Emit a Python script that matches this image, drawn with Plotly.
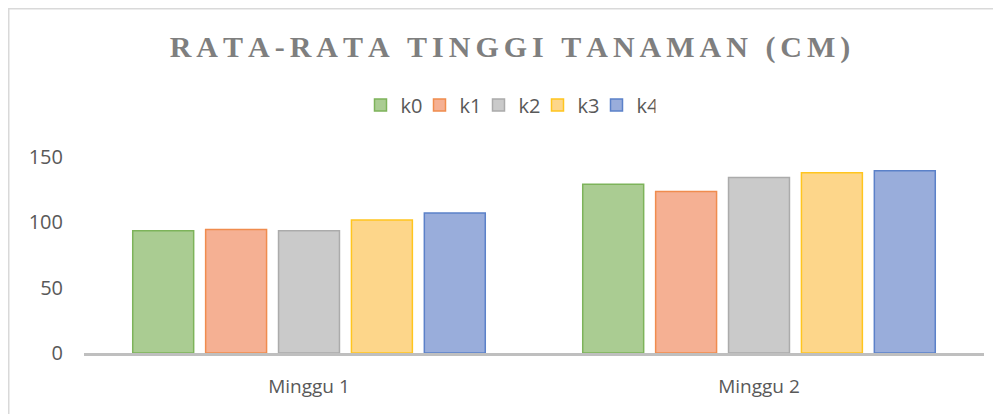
import plotly.graph_objects as go

# data
minggu = ["Minggu 1", "Minggu 2"]
seri = ["k0", "k1", "k2", "k3", "k4"]
k0 = [93.6, 129.1]
k1 = [94.6, 123.7]
k2 = [93.5, 134.4]
k3 = [101.8, 137.9]
k4 = [107.1, 139.5]
nilai = [k0, k1, k2, k3, k4]

# fill / border colours (Excel-ish)
isi = ["#AACC92", "#F5B093", "#CACACA", "#FDD68A", "#99ADDB"]
garis = ["#7DB35A", "#F08C4E", "#ABABAB", "#FFC51F", "#5B81C9"]

# page body has an 8px margin, so the figure is a bit smaller and shifted
OFF = 8
W, H = 1001 - OFF, 414 - OFF
ML, MR, MT, MB = 84 - OFF, 17, 144 - OFF, 61
pw = W - ML - MR
ph = H - MT - MB

fig = go.Figure()
for nama, y, c, lc in zip(seri, nilai, isi, garis):
    fig.add_trace(go.Bar(
        x=minggu, y=y, name=nama,
        marker=dict(color=c, line=dict(color=lc, width=1.5)),
    ))

judul = "RATA-RATA TINGGI TANAMAN (CM)"
judul = "\u2006".join(judul)

fig.update_layout(
    width=W, height=H,
    margin=dict(l=ML, r=MR, t=MT, b=MB),
    paper_bgcolor="white", plot_bgcolor="white",
    barmode="group", bargap=0.19, bargroupgap=0.164,
    font=dict(family="Open Sans", size=19, color="#595959"),
    title=dict(
        text="<b>" + judul + "</b>",
        font=dict(family="Liberation Serif", size=30, color="#7F7F7F"),
        x=(510 - OFF) / W, xanchor="center", xref="container",
        y=1 - (46 - OFF) / H, yanchor="middle",
    ),
    legend=dict(
        orientation="h", x=(508 - 84) / pw, xanchor="center",
        y=(H - MB - (105 - OFF)) / ph, yanchor="middle",
        font=dict(size=20, color="#595959"),
        itemwidth=30, traceorder="normal",
        entrywidth=14, entrywidthmode="pixels",
    ),
    showlegend=True,
)

fig.update_xaxes(
    showline=True, linecolor="#BFBFBF", linewidth=2.5,
    showgrid=False, ticks="", ticklabelstandoff=14,
)
fig.update_yaxes(
    range=[0, 160], tickvals=[0, 50, 100, 150],
    showgrid=False, zeroline=False, showline=False,
    ticklabelstandoff=20, tickfont=dict(size=20),
)

# chart border (light grey frame, partly outside the picture)
fig.add_shape(
    type="rect", xref="paper", yref="paper",
    x0=(0.75 - ML) / pw, x1=(W + 20 - ML) / pw,
    y0=-(MB + 20) / ph, y1=(H - MB - 0.75) / ph,
    line=dict(color="#D9D9D9", width=1.5), fillcolor="rgba(0,0,0,0)",
    layer="below",
)

fig.write_html("out.html")
